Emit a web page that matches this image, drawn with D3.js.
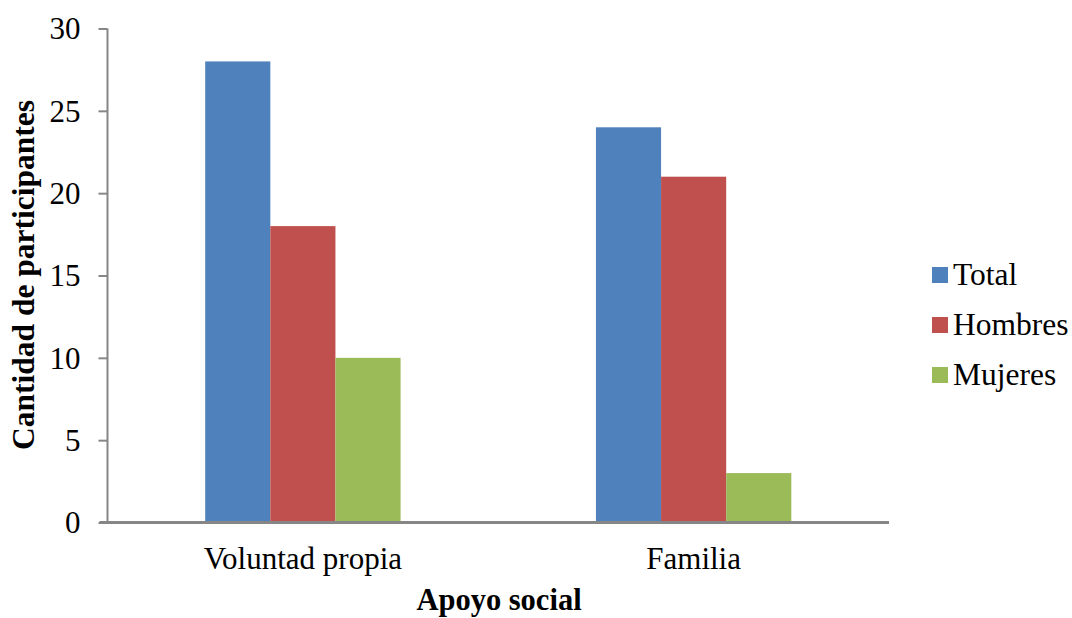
<!DOCTYPE html>
<html><head><meta charset="utf-8">
<script src="https://cdn.jsdelivr.net/npm/d3@7"></script>
<style>body{margin:0;background:#fff}</style>
</head><body>
<svg id="c" width="1072" height="618"></svg>
<script>
const categories = ["Voluntad propia", "Familia"];
const seriesNames = ["Total", "Hombres", "Mujeres"];
const totalValues = [28, 24];
const hombresValues = [18, 21];
const mujeresValues = [10, 3];
const yTicks = [0, 5, 10, 15, 20, 25, 30];
const colors = ["#4F81BD", "#C0504D", "#9BBB59"];

const seriesValues = [totalValues, hombresValues, mujeresValues];
const FONT = "Times New Roman";
const svg = d3.select("#c");
const L = 107.5, R = 889, T = 28.5, B = 522.5;

const x = d3.scaleBand().domain(categories).range([L, R]).paddingInner(0).paddingOuter(0);
const x1 = d3.scaleBand().domain(seriesNames).range([0, x.bandwidth()]).paddingInner(0).paddingOuter(1.5);
const y = d3.scaleLinear().domain([0, 30]).range([B, T]);

categories.forEach((c, ci) => {
  seriesNames.forEach((s, si) => {
    const v = seriesValues[si][ci];
    svg.append("rect")
      .attr("x", x(c) + x1(s))
      .attr("y", y(v))
      .attr("width", x1.bandwidth())
      .attr("height", y(0) - y(v))
      .attr("fill", colors[si]);
  });
});

const yAxis = d3.axisLeft(y).tickValues(yTicks).tickSize(9).tickPadding(18);
const gy = svg.append("g").attr("transform", `translate(${L},0)`).call(yAxis);
gy.attr("font-family", null).attr("font-size", null);
gy.select(".domain").attr("stroke", "#868686").attr("stroke-width", 2).attr("d", `M0,${T}V${B}`);
gy.selectAll(".tick line").attr("stroke", "#868686").attr("stroke-width", 2);
gy.selectAll(".tick text").attr("font-size", 31).style("font-family", FONT).attr("fill", "#000").attr("dy", "0.33em");

const xAxis = d3.axisBottom(x).tickSize(0).tickPadding(24);
const gx = svg.append("g").attr("transform", `translate(0,${B})`).call(xAxis);
gx.attr("font-family", null).attr("font-size", null);
gx.select(".domain").attr("stroke", "#868686").attr("stroke-width", 3).attr("d", `M${L-8},0H${R}`);
gx.selectAll(".tick text").attr("font-size", 31).style("font-family", FONT).attr("fill", "#000");

svg.append("text").attr("x", 499).attr("y", 610).attr("text-anchor", "middle")
  .attr("font-size", 30.5).style("font-family", FONT).attr("font-weight", "bold").text("Apoyo social");
svg.append("text").attr("transform", "translate(34,275) rotate(-90)").attr("text-anchor", "middle")
  .attr("font-size", 31.5).style("font-family", FONT).attr("font-weight", "bold").text("Cantidad de participantes");

const lg = svg.append("g");
seriesNames.forEach((s, i) => {
  const top = 267 + i * 50;
  lg.append("rect").attr("x", 932).attr("y", top).attr("width", 16).attr("height", 16).attr("fill", colors[i]);
  lg.append("text").attr("x", 953).attr("y", top + 18).attr("font-size", 31.5).style("font-family", FONT).text(s);
});
</script>
</body></html>
